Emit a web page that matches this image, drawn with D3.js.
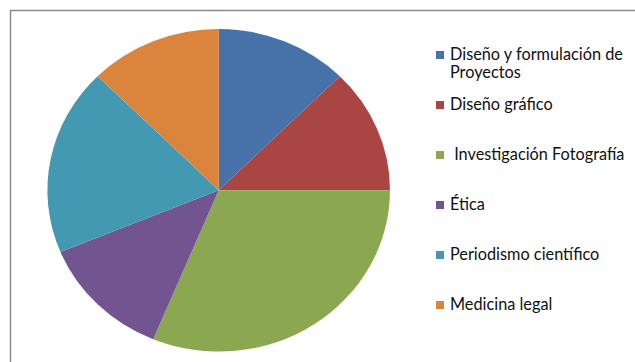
<!DOCTYPE html>
<html>
<head>
<meta charset="utf-8">
<script src="https://cdn.jsdelivr.net/npm/d3@7"></script>
<style>
  body { margin: 0; background: #fff; }
  svg { display: block; }
</style>
</head>
<body>
<div id="chart"></div>
<script>
// Data
const categories = [
  "Diseño y formulación de Proyectos",
  "Diseño gráfico",
  " Investigación Fotografía",
  "Ética",
  "Periodismo científico",
  "Medicina legal"
];
const values = [2, 2, 5, 2, 3, 2];
const colors = ["#4672A9", "#A94644", "#8BA851", "#725590", "#4499B2", "#DB843D"];
// legend lines (wrapped as in the original)
const legendLines = [
  ["Diseño y formulación de", "Proyectos"],
  ["Diseño gráfico"],
  ["\u00A0Investigación Fotografía"],
  ["Ética"],
  ["Periodismo científico"],
  ["Medicina legal"]
];

const W = 635, H = 362;
const svg = d3.select("#chart").append("svg")
  .attr("width", W).attr("height", H);

// chart frame (only top/left visible, rest is cut off)
svg.append("path")
  .attr("d", `M10.5,${H} V10.5 H${W}`)
  .attr("fill", "none")
  .attr("stroke", "#8a8a8a")
  .attr("stroke-width", 1.5);

// Pie (drawn as an ellipse — the original is slightly squashed)
const cx = 218.7, cy = 190.3, rx = 171.3, ry = 161.3;
const pie = d3.pie().sort(null).value(d => d);
const arc = d3.arc().innerRadius(0).outerRadius(rx);

const g = svg.append("g")
  .attr("transform", `translate(${cx},${cy}) scale(1,${ry / rx})`);

g.selectAll("path.slice")
  .data(pie(values)).join("path").attr("class", "slice")
  .attr("d", arc)
  .attr("fill", (d, i) => colors[i]);

// Legend
const baselines = [60, 110, 160, 210, 260, 310];
const lg = svg.append("g").attr("font-family", "Lato, 'Noto Sans', sans-serif")
  .attr("font-size", 16.3).attr("fill", "#111");

legendLines.forEach((lines, i) => {
  const b = baselines[i];
  lg.append("rect")
    .attr("x", 436).attr("y", b - 9)
    .attr("width", 8).attr("height", 8)
    .attr("fill", colors[i]);
  const t = lg.append("text").attr("x", 450).attr("y", b);
  lines.forEach((ln, j) => {
    t.append("tspan").attr("x", 450).attr("y", b + j * 18).text(ln);
  });
});
</script>
</body>
</html>
